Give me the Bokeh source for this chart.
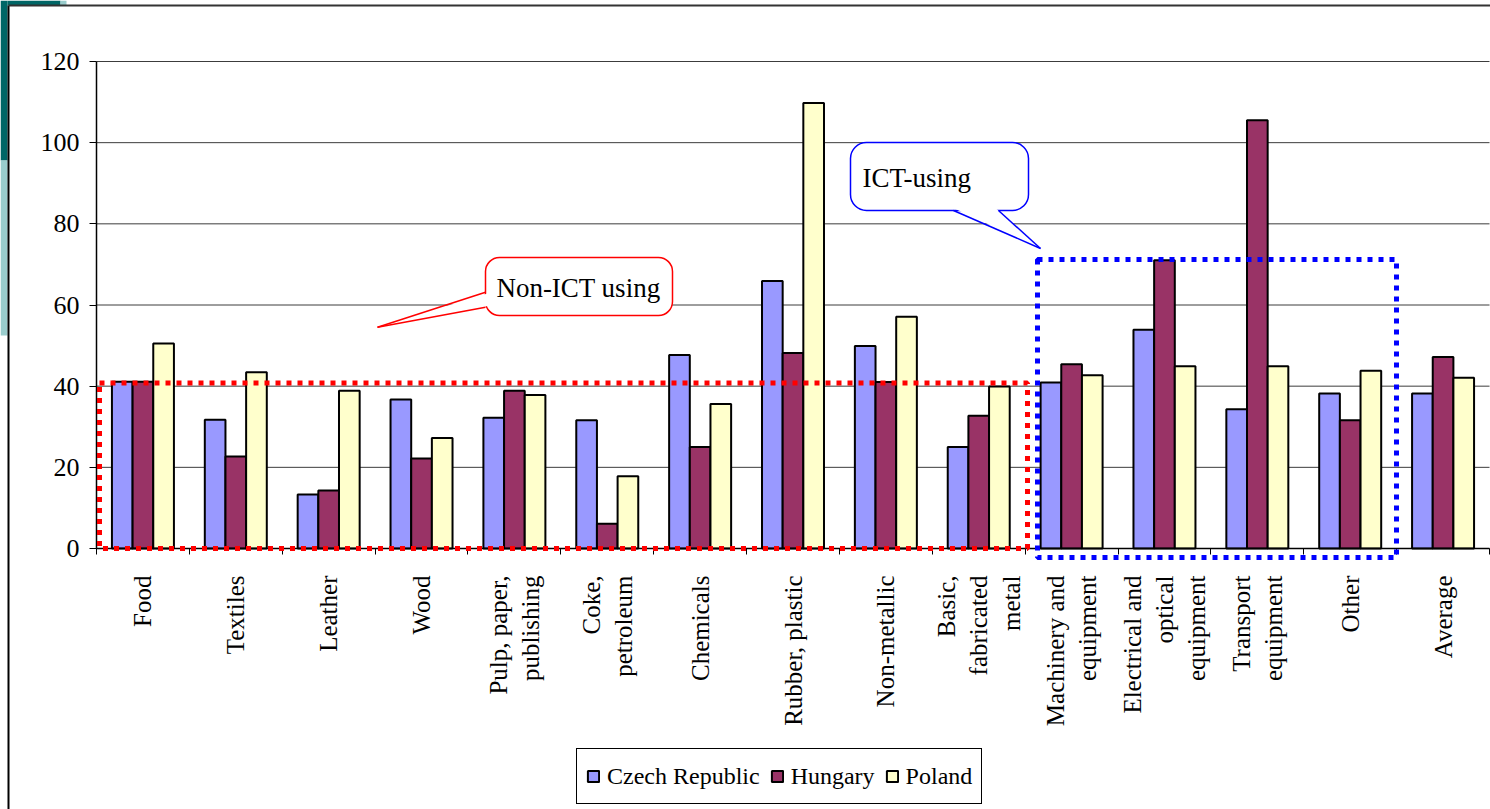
import numpy as np
from bokeh.plotting import figure
from bokeh.models import (Range1d, FixedTicker, Legend, LegendItem, BoxAnnotation,
                          PolyAnnotation, Arrow, Label, ColumnDataSource)
from bokeh.transform import dodge
from bokeh.embed import file_html
from bokeh.resources import INLINE

# ---------------- data ----------------
categories = ["Food", "Textiles", "Leather", "Wood", "Pulp, paper,\npublishing",
              "Coke,\npetroleum", "Chemicals", "Rubber, plastic", "Non-metallic",
              "Basic,\nfabricated\nmetal", "Machinery and\nequipment",
              "Electrical and\noptical\nequipment", "Transport\nequipment",
              "Other", "Average"]
czech = [41.1, 31.7, 13.3, 36.7, 32.2, 31.6, 47.7, 65.9, 49.9, 25.0, 40.9, 53.9, 34.3, 38.2, 38.2]
hungary = [41.1, 22.7, 14.3, 22.2, 38.9, 6.1, 25.0, 48.2, 41.0, 32.7, 45.4, 71.0, 105.5, 31.6, 47.2]
poland = [50.5, 43.4, 38.9, 27.2, 37.8, 17.8, 35.6, 109.8, 57.1, 39.9, 42.7, 44.9, 44.9, 43.8, 42.1]
series_names = ["Czech Republic", "Hungary", "Poland"]
series_colors = ["#9999FF", "#993366", "#FFFFCC"]
y_ticks = [0, 20, 40, 60, 80, 100, 120]

n = len(categories)
centers = [i + 0.5 for i in range(n)]
bounds = [float(i) for i in range(n + 1)]

FONT = "Liberation Serif"
W, H = 1490, 809
# plot area in page pixels
PL, PR, PT, PB = 96, 1489, 61, 548
cw = (PR - PL) / n          # px per category
ppu = (PB - PT) / 120.0     # px per y unit


def sx(px):
    return (px - PL) / cw


def sy(py):
    return (PB - py) / ppu


p = figure(width=W, height=H, min_border=0,
           x_range=Range1d(sx(0), sx(W)), y_range=Range1d(sy(H), sy(0)),
           output_backend="svg", toolbar_location=None,
           background_fill_color="white", border_fill_color="white",
           outline_line_color=None)

# slide decorations (left frame, teal corner)
p.quad(left=sx(0), right=sx(7), bottom=sy(160), top=sy(0), fill_color="#006666", line_color=None)
p.quad(left=sx(0), right=sx(7), bottom=sy(335), top=sy(160), fill_color="#99CCCC", line_color=None)
p.quad(left=sx(7), right=sx(60), bottom=sy(5), top=sy(0), fill_color="#006666", line_color=None)
p.quad(left=sx(60), right=sx(66), bottom=sy(5), top=sy(0), fill_color="#99CCCC", line_color=None)
p.segment(x0=sx(8), x1=sx(8), y0=sy(5), y1=sy(H), line_color="black", line_width=2)
p.segment(x0=sx(8), x1=sx(W), y0=sy(5), y1=sy(5), line_color="#333333", line_width=2)

# gridlines
p.xgrid.visible = False
p.ygrid.visible = False
p.segment(x0=[0] * len(y_ticks), x1=[n] * len(y_ticks), y0=y_ticks, y1=y_ticks,
          line_color="#3c3c3c", line_width=1)

# axes
xa = p.xaxis[0]
xa.fixed_location = 0
xa.bounds = (0, n)
xa.ticker = FixedTicker(ticks=centers, minor_ticks=bounds)
xa.major_label_overrides = {c: lab for c, lab in zip(centers, categories)}
xa.major_label_orientation = np.pi / 2
xa.major_tick_in = 0
xa.major_tick_out = 0
xa.minor_tick_in = 0
xa.minor_tick_out = 6
xa.minor_tick_line_color = "black"
xa.axis_line_color = "black"
xa.axis_line_width = 1.5
xa.major_label_standoff = 21
xa.major_label_text_font = FONT
xa.major_label_text_font_size = "25px"
xa.major_label_text_color = "black"

ya = p.yaxis[0]
ya.fixed_location = 0
ya.bounds = (0, 120)
ya.ticker = FixedTicker(ticks=y_ticks)
ya.major_tick_in = 0
ya.major_tick_out = 7
ya.major_tick_line_color = "black"
ya.minor_tick_line_color = None
ya.axis_line_color = "black"
ya.axis_line_width = 1.5
ya.major_label_standoff = 10
ya.major_label_text_font = FONT
ya.major_label_text_font_size = "26px"
ya.major_label_text_color = "black"

# bars
src = ColumnDataSource(dict(x=centers, cz=czech, hu=hungary, pl=poland))
bw = 0.2225
renderers = []
for key, off, col in zip(["cz", "hu", "pl"], [-bw, 0.0, bw], series_colors):
    r = p.vbar(x=dodge("x", off), top=key, width=bw, source=src,
               fill_color=col, line_color="black", line_width=2)
    renderers.append(r)

# dotted group boxes
p.add_layout(BoxAnnotation(left=sx(99), right=sx(1027), bottom=0.0, top=sy(382.5),
                           fill_alpha=0, line_color="#FF0000", line_alpha=1, line_width=5,
                           line_dash="5 6"))
p.add_layout(BoxAnnotation(left=sx(1037), right=sx(1396), bottom=sy(557), top=sy(259),
                           fill_alpha=0, line_color="#0000FF", line_alpha=1, line_width=5,
                           line_dash="5 6"))

# callout: Non-ICT using
p.add_layout(BoxAnnotation(left=sx(485), right=sx(672), bottom=sy(315), top=sy(257),
                           border_radius=14, fill_color="white", fill_alpha=1,
                           line_color="#FF0000", line_alpha=1, line_width=1.5))
p.add_layout(PolyAnnotation(xs=[sx(487), sx(487), sx(377)], ys=[sy(293), sy(305.5), sy(326.7)],
                            fill_color="white", fill_alpha=1, line_color=None))
p.add_layout(Arrow(x_start=sx(485), y_start=sy(291.7), x_end=sx(377), y_end=sy(326.7), end=None,
                   line_color="#FF0000", line_width=1.5))
p.add_layout(Arrow(x_start=sx(485), y_start=sy(306.7), x_end=sx(377), y_end=sy(326.7), end=None,
                   line_color="#FF0000", line_width=1.5))
p.add_layout(Label(x=sx(578), y=sy(287), text="Non-ICT using", text_align="center",
                   text_baseline="middle", text_font=FONT, text_font_size="27px",
                   text_color="black"))

# callout: ICT-using
p.add_layout(BoxAnnotation(left=sx(850), right=sx(1028), bottom=sy(210), top=sy(142),
                           border_radius=16, fill_color="white", fill_alpha=1,
                           line_color="#0000FF", line_alpha=1, line_width=1.5))
p.add_layout(PolyAnnotation(xs=[sx(955), sx(996), sx(1040)], ys=[sy(208.5), sy(208.5), sy(248)],
                            fill_color="white", fill_alpha=1, line_color=None))
p.add_layout(Arrow(x_start=sx(953), y_start=sy(210), x_end=sx(1040), y_end=sy(248), end=None,
                   line_color="#0000FF", line_width=1.5))
p.add_layout(Arrow(x_start=sx(998), y_start=sy(210), x_end=sx(1040), y_end=sy(248), end=None,
                   line_color="#0000FF", line_width=1.5))
p.add_layout(Label(x=sx(862), y=sy(177), text="ICT-using", text_align="left",
                   text_baseline="middle", text_font=FONT, text_font_size="27px",
                   text_color="black"))

# legend
legend = Legend(items=[LegendItem(label=nm, renderers=[r]) for nm, r in zip(series_names, renderers)],
                orientation="horizontal", location=(576, 5),
                border_line_color="black", border_line_width=1, border_line_alpha=1,
                background_fill_color="white", background_fill_alpha=1,
                label_text_font="'Liberation Serif', serif", label_text_font_size="24px",
                label_text_color="black",
                label_height=36, glyph_width=14, glyph_height=14, label_standoff=7,
                spacing=10, padding=9, margin=0)
p.add_layout(legend)

open("out.html", "w").write(file_html(p, INLINE))
